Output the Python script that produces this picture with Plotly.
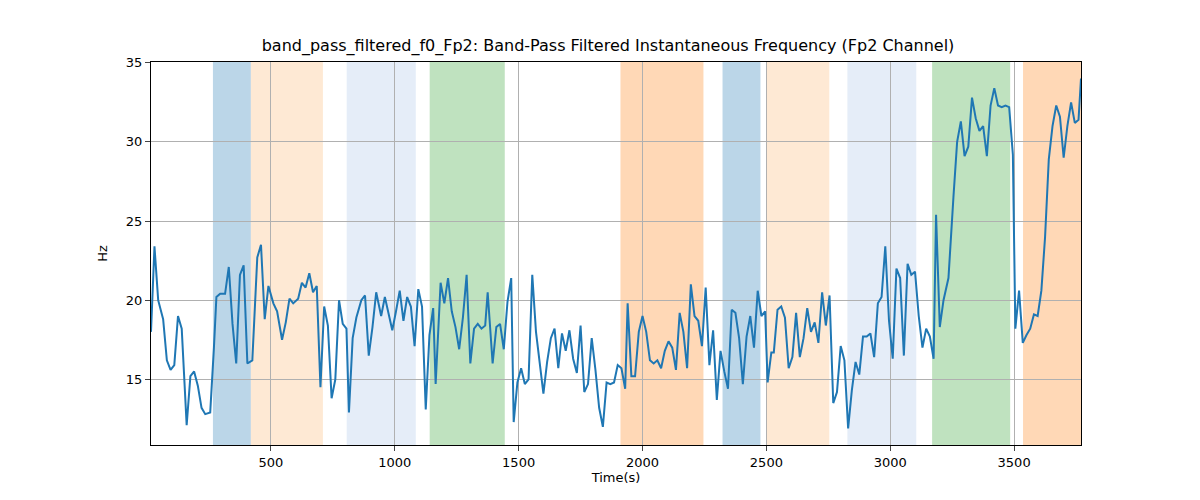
import plotly.graph_objects as go

# vertices (time in s, frequency in Hz)
time_s = [16, 30, 45, 65, 80, 95, 110, 125, 140, 160, 175, 190, 205, 220, 235, 255, 270, 280, 295, 315,
          330, 345, 360, 375, 390, 405, 425, 445, 460, 475, 490, 510, 525, 545, 560, 575, 590, 610, 625, 640,
          655, 670, 685, 700, 715, 730, 745, 760, 775, 790, 805, 815, 830, 845, 865, 880, 895, 910, 925, 945,
          960, 975, 990, 1005, 1020, 1035, 1050, 1065, 1080, 1095, 1110, 1125, 1140, 1155, 1165, 1185, 1200, 1215, 1230, 1245,
          1260, 1275, 1290, 1305, 1320, 1335, 1350, 1365, 1375, 1395, 1410, 1425, 1440, 1455, 1470, 1480, 1495, 1510, 1525, 1540,
          1555, 1570, 1585, 1600, 1615, 1630, 1645, 1660, 1675, 1690, 1705, 1720, 1735, 1750, 1765, 1780, 1795, 1810, 1825, 1840,
          1855, 1870, 1885, 1900, 1915, 1930, 1940, 1955, 1970, 1985, 2000, 2015, 2030, 2045, 2060, 2075, 2090, 2105, 2120, 2135,
          2150, 2165, 2180, 2195, 2210, 2225, 2240, 2255, 2270, 2285, 2300, 2315, 2330, 2345, 2360, 2375, 2390, 2405, 2420, 2435,
          2450, 2465, 2480, 2495, 2505, 2520, 2530, 2545, 2560, 2575, 2590, 2605, 2620, 2635, 2650, 2665, 2680, 2695, 2710, 2725,
          2740, 2755, 2770, 2785, 2800, 2815, 2830, 2845, 2860, 2875, 2890, 2905, 2920, 2935, 2950, 2965, 2980, 2995, 3010, 3025,
          3040, 3055, 3070, 3085, 3100, 3115, 3130, 3145, 3160, 3175, 3185, 3200, 3215, 3235, 3255, 3270, 3285, 3300, 3315, 3330,
          3345, 3360, 3375, 3390, 3405, 3420, 3435, 3450, 3465, 3480, 3495, 3505, 3520, 3535, 3550, 3565, 3580, 3595, 3610, 3625,
          3640, 3655, 3670, 3685, 3700, 3715, 3730, 3745, 3760, 3770]
freq_hz = [18, 23.4, 20, 18.8, 16.2, 15.6, 15.9, 19, 18.2, 12.1, 15.2, 15.5, 14.6, 13.2, 12.8, 12.9, 17, 20.2, 20.4, 20.4,
           22.1, 18.5, 16, 21.6, 22.2, 16, 16.2, 22.7, 23.5, 18.8, 20.9, 19.8, 19.3, 17.5, 18.6, 20.1, 19.8, 20.1, 21.1, 20.8,
           21.7, 20.5, 20.9, 14.5, 19.6, 18.4, 13.8, 15, 20, 18.5, 18.2, 12.9, 17.6, 18.9, 20, 20.3, 16.5, 18.3, 20.5, 19,
           20.2, 19.2, 18.1, 19.3, 20.6, 18.7, 20.2, 19.6, 17.1, 20.7, 19.6, 13.1, 17.8, 19.5, 14.7, 21.1, 19.8, 21.4, 19.3, 18.3,
           16.9, 18.9, 21.6, 16.0, 18.2, 18.5, 18.2, 18.4, 20.5, 16, 18.3, 18.5, 16.9, 19.9, 21.4, 12.3, 14.8, 15.7, 14.7, 15,
           21.6, 18, 16.2, 14.1, 16.1, 17.6, 18.2, 15.7, 17.9, 16.8, 18.1, 16.3, 15.4, 18.4, 14.2, 14.7, 17.6, 15.6, 13.2, 12,
           14.8, 14.7, 14.8, 15.9, 15.7, 14.4, 19.8, 15.2, 15.2, 18, 19, 18, 16.2, 16, 16.2, 15.7, 16.8, 17.4, 17, 15.6,
           19.2, 18, 15.7, 21, 19, 18.7, 17.1, 20.8, 15.9, 18.1, 13.7, 16.8, 15.5, 14.4, 19.4, 19.2, 17.6, 14.7, 17.7, 19,
           17, 20.6, 19, 19.3, 14.8, 16.7, 16.7, 19.4, 19.6, 18.9, 15.7, 16.4, 19.2, 16.4, 17.6, 19.5, 18, 18.6, 17.3, 20.5,
           18.4, 20.3, 13.5, 14.2, 17.1, 16.2, 11.9, 14.3, 16.1, 15.3, 17.7, 17.7, 17.9, 16.4, 19.8, 20.2, 23.4, 18.7, 16.3, 22,
           21.4, 16.5, 22.3, 21.6, 21.8, 19, 17, 18.2, 17.7, 16.3, 25.4, 18.3, 20, 21.4, 26.5, 30, 31.3, 29.1, 29.7, 32.8,
           31.5, 30.7, 31, 29.1, 32.3, 33.4, 32.3, 32.2, 32.3, 32.2, 29.2, 18.2, 20.6, 17.3, 17.8, 18.2, 19.1, 19, 20.6, 24,
           28.9, 31, 32.3, 31.6, 29, 31, 32.5, 31.2, 31.4, 34]

band_start = [266, 419, 806, 1141, 1911, 2323, 2500, 2827, 3169, 3536]
band_end = [419, 710, 1085, 1444, 2246, 2476, 2754, 3105, 3484, 3770]
band_color = ["rgba(31,119,180,0.3)", "rgba(253,191,132,0.35)", "rgba(174,199,232,0.32)",
              "rgba(44,160,44,0.3)", "rgba(255,127,14,0.3)", "rgba(31,119,180,0.3)",
              "rgba(253,191,132,0.35)", "rgba(174,199,232,0.32)", "rgba(44,160,44,0.3)",
              "rgba(255,127,14,0.3)"]

fig = go.Figure()
for x0, x1, c in zip(band_start, band_end, band_color):
    fig.add_vrect(x0=x0, x1=x1, fillcolor=c, line_width=0, layer="below")

fig.add_trace(go.Scatter(x=time_s, y=freq_hz, mode="lines",
                         line=dict(color="#1f77b4", width=2), showlegend=False))

ax = dict(showline=True, linecolor="black", linewidth=1, mirror=True, ticks="outside",
          showgrid=True, gridcolor="#b0b0b0", gridwidth=1, zeroline=False,
          tickfont=dict(size=13, color="black"), title_font=dict(size=13, color="black"))
fig.update_xaxes(**ax, range=[16, 3770], tickvals=[500, 1000, 1500, 2000, 2500, 3000, 3500],
                 title_text="Time(s)", title_standoff=4)
fig.update_yaxes(**ax, range=[10.85, 35.05], tickvals=[15, 20, 25, 30, 35], title_text="Hz")
fig.update_layout(
    width=1200, height=500,
    margin=dict(l=143, r=127, t=54, b=63),
    plot_bgcolor="white", paper_bgcolor="white",
    font=dict(family="DejaVu Sans", color="black"),
    title=dict(text="band_pass_filtered_f0_Fp2: Band-Pass Filtered Instantaneous Frequency (Fp2 Channel)",
               x=0.5, xanchor="center", y=0.925, yanchor="middle", font=dict(size=16)),
)
fig.write_html("out.html")
